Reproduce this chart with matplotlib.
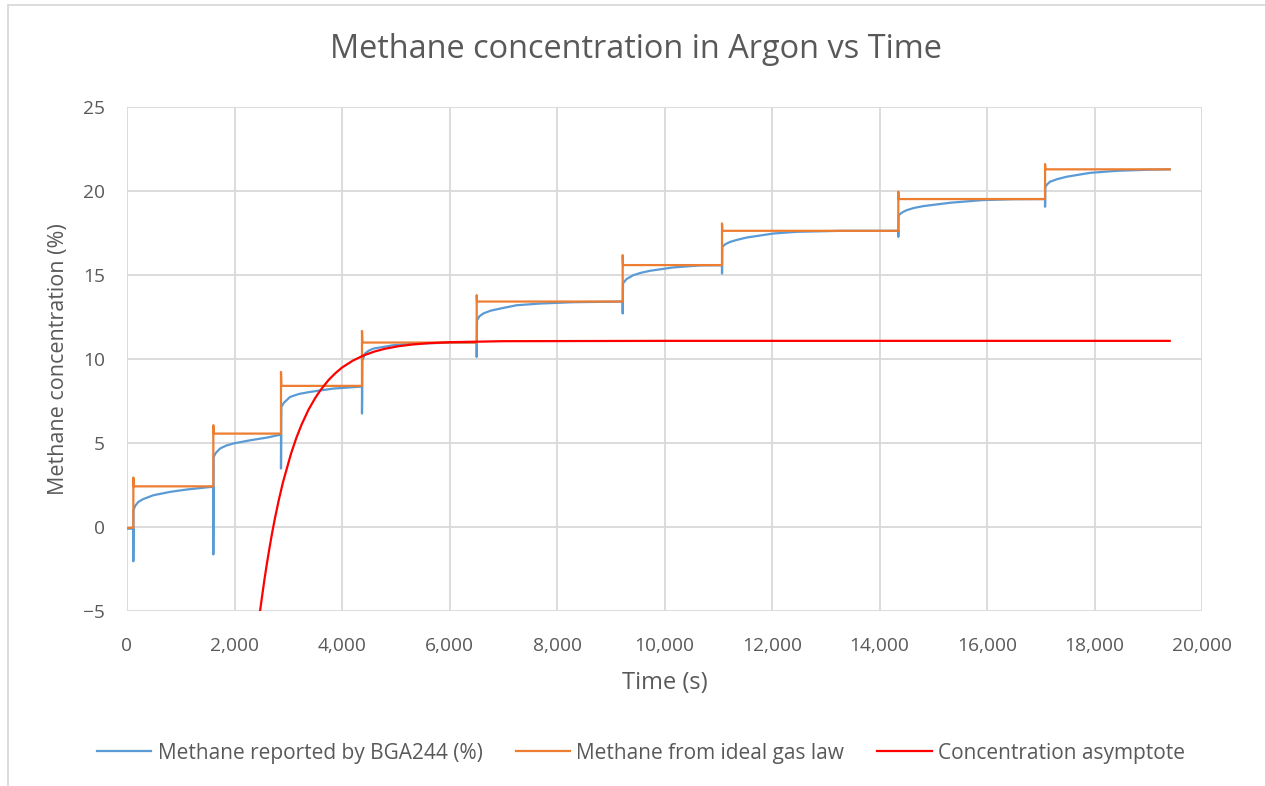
import matplotlib.pyplot as plt
from matplotlib.patches import Rectangle
from matplotlib.ticker import FuncFormatter

# Methane reported by BGA244 (%)
blue_t = [0, 118, 118, 121, 150, 210, 300, 490, 800, 1110, 1400, 1606,
          1606, 1612, 1650, 1730, 1850, 1978, 2288, 2600, 2865,
          2865, 2872, 2920, 3033, 3200, 3405, 3840, 4372,
          4372, 4380, 4428, 4500, 4583, 4955, 5390, 6000, 6506,
          6506, 6512, 6560, 6629, 6760, 6940, 7250, 7684, 8300, 9222,
          9222, 9228, 9290, 9420, 9560, 9730, 10160, 10660, 11070,
          11070, 11076, 11130, 11219, 11360, 11530, 12025, 12460, 13300, 14350,
          14350, 14356, 14420, 14505, 14640, 14815, 15312, 15930, 16500, 17080,
          17080, 17086, 17120, 17172, 17300, 17483, 17916, 18412, 19030, 19400]
blue_v = [-0.1, -0.1, -2.04, 1.0, 1.25, 1.49, 1.66, 1.89, 2.09, 2.23, 2.33, 2.40,
          -1.63, 4.17, 4.4, 4.67, 4.85, 4.97, 5.16, 5.32, 5.5,
          3.48, 7.15, 7.4, 7.74, 7.92, 8.04, 8.24, 8.36,
          6.75, 9.9, 10.33, 10.5, 10.62, 10.82, 10.92, 10.97, 10.98,
          10.12, 12.31, 12.55, 12.71, 12.87, 13.0, 13.2, 13.3, 13.38, 13.42,
          12.71, 14.5, 14.75, 14.99, 15.13, 15.25, 15.45, 15.57, 15.58,
          15.09, 16.68, 16.83, 16.97, 17.1, 17.23, 17.47, 17.57, 17.63, 17.63,
          17.27, 18.56, 18.72, 18.86, 18.99, 19.1, 19.3, 19.46, 19.51, 19.52,
          19.06, 20.25, 20.4, 20.55, 20.7, 20.85, 21.08, 21.2, 21.27, 21.29]

# Methane from ideal gas law
orange_t = [0, 118, 118, 125, 1606, 1606, 1612, 2865, 2865, 2872, 4372, 4372, 4380,
            6506, 6506, 6512, 9222, 9222, 9228, 11070, 11070, 11076, 14350, 14350,
            14356, 17080, 17080, 17086, 19400]
orange_v = [-0.05, -0.05, 2.94, 2.42, 2.42, 6.06, 5.56, 5.56, 9.23, 8.4, 8.4, 11.67, 10.98,
            10.98, 13.8, 13.42, 13.42, 16.18, 15.59, 15.59, 18.07, 17.63, 17.63, 19.96,
            19.52, 19.52, 21.6, 21.29, 21.29]

# Concentration asymptote
red_t = [2475, 2550, 2600, 2650, 2700, 2750, 2825, 2900, 3050, 3150, 3250, 3375,
         3500, 3600, 3750, 3875, 4000, 4200, 4400, 4600, 4800, 5050, 5300, 5600,
         6000, 7000, 10000, 19400]
red_v = [-5.0, -3.28, -2.23, -1.26, -0.35, 0.48, 1.62, 2.64, 4.35, 5.3, 6.11, 6.97,
         7.67, 8.15, 8.75, 9.15, 9.49, 9.9, 10.21, 10.44, 10.61, 10.76, 10.86, 10.94,
         11.0, 11.06, 11.08, 11.08]

grey = '#595959'
plt.rcParams['font.family'] = ['Open Sans', 'DejaVu Sans']

fig = plt.figure(figsize=(12.65, 7.86), dpi=100)
ax = fig.add_axes([127 / 1265, 1 - 611 / 786, (1202 - 127) / 1265, (611 - 107) / 786])

ax.plot(blue_t, blue_v, color='#5B9BD5', lw=1.6, label='Methane reported by BGA244 (%)', zorder=3)
ax.plot(orange_t, orange_v, color='#ED7D31', lw=1.6, label='Methane from ideal gas law', zorder=4)
ax.plot(red_t, red_v, color='#FF0000', lw=1.6, label='Concentration asymptote', zorder=5)

ax.set_xlim(0, 20000)
ax.set_ylim(-5, 25)
ax.set_xticks(range(0, 20001, 2000))
ax.set_yticks(range(-5, 26, 5))
ax.xaxis.set_major_formatter(FuncFormatter(lambda v, p: '{:,.0f}'.format(v)))
ax.grid(True, color='#d9d9d9', lw=1.3)
ax.set_axisbelow(True)
for s in ax.spines.values():
    s.set_visible(False)
ax.tick_params(length=0, labelsize=13.8, colors=grey)
ax.tick_params(axis='x', pad=19)
ax.tick_params(axis='y', pad=16)

ax.set_xlabel('Time (s)', fontsize=17, color=grey, labelpad=11)
ax.set_ylabel('Methane concentration (%)', fontsize=15.5, color=grey, labelpad=10)
fig.text(636 / 1265, 1 - 50 / 786, 'Methane concentration in Argon vs Time',
         ha='center', va='center', fontsize=23.4, color=grey)

fig.legend(loc='center', bbox_to_anchor=(641 / 1265, 1 - 753 / 786), ncol=3, frameon=False,
           fontsize=15, labelcolor=grey, handlelength=2.6, handletextpad=0.3, columnspacing=1.6)

# chart area border (partly cropped in the original)
fig.add_artist(Rectangle((8 / 1265, -0.1), 1.1, 1.1 - 5 / 786, transform=fig.transFigure,
                         fill=False, edgecolor='#d9d9d9', lw=1.3))

fig.savefig('out.png', dpi=100)
